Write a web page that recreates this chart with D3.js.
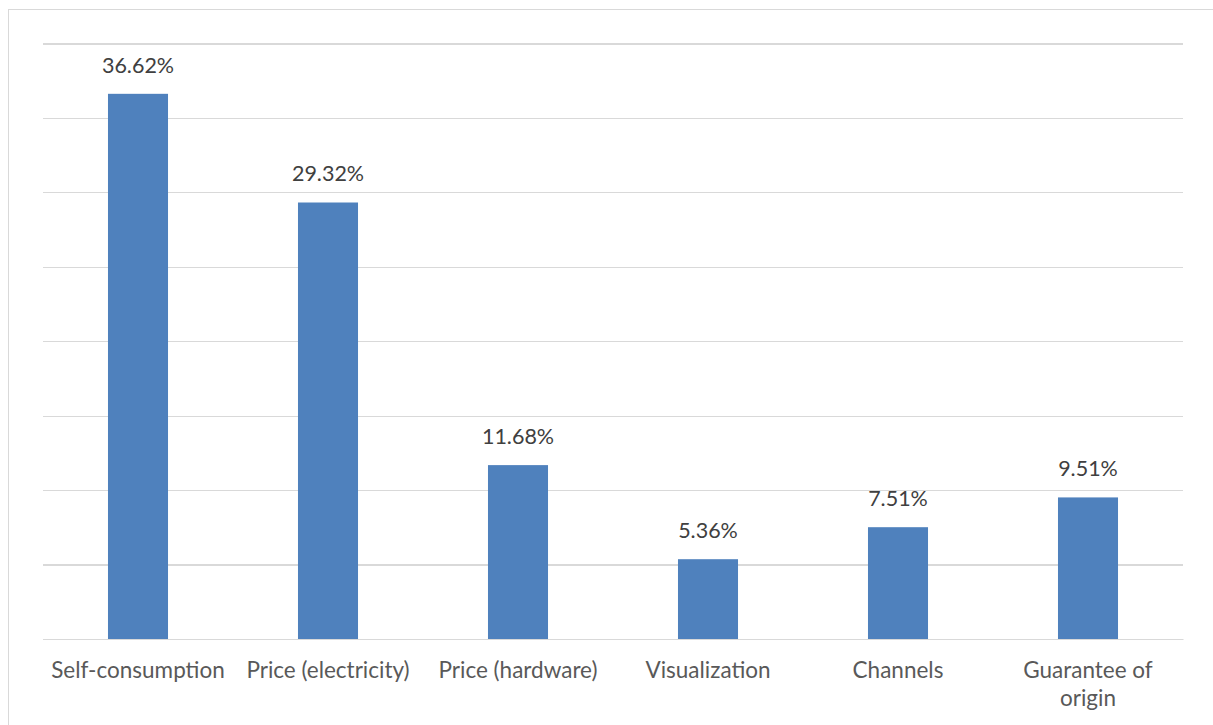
<!DOCTYPE html>
<html><head><meta charset="utf-8">
<script src="https://cdn.jsdelivr.net/npm/d3@7"></script>
<style>body{margin:0;background:#fff;}svg{display:block;}</style>
</head><body>
<svg id="chart" width="1213" height="725"></svg>
<script>
const categories = ["Self-consumption","Price (electricity)","Price (hardware)","Visualization","Channels","Guarantee of origin"];
const values = [36.62, 29.32, 11.68, 5.36, 7.51, 9.51];
const yTicks = [0,5,10,15,20,25,30,35,40];

const svg = d3.select("#chart");
const W = 1213, H = 725;
const m = {left:43, right:30, top:43.5, bottom:86};
const font = "Lato, 'Open Sans', sans-serif";

// outer border (clipped by window on right/bottom)
svg.append("rect").attr("x",8.5).attr("y",9.5).attr("width",1300).attr("height",800)
  .attr("fill","#fff").attr("stroke","#d9d9d9").attr("stroke-width",1);

const x = d3.scaleBand().domain(categories).range([m.left, W-m.right]).paddingInner(0.684).paddingOuter(0.342);
const y = d3.scaleLinear().domain([0,40]).range([639, m.top]);

// gridlines
const yAxis = d3.axisLeft(y).tickValues(yTicks).tickSize(-(W-m.right-m.left)).tickFormat("");
const gy = svg.append("g").attr("transform",`translate(${m.left},0)`).call(yAxis);
gy.select(".domain").remove();
gy.selectAll(".tick line").attr("stroke","#d9d9d9").attr("stroke-width",1.2).attr("shape-rendering","crispEdges");

// bars
svg.append("g").selectAll("rect").data(values).join("rect")
  .attr("x",(d,i)=>x(categories[i]))
  .attr("y",d=>y(d))
  .attr("width",x.bandwidth())
  .attr("height",d=>y(0)-y(d))
  .attr("fill","#4f81bd");

// data labels
svg.append("g").selectAll("text").data(values).join("text")
  .attr("x",(d,i)=>x(categories[i])+x.bandwidth()/2)
  .attr("y",d=>y(d)-21)
  .attr("text-anchor","middle")
  .attr("font-family",font).attr("font-size",21.5).attr("fill","#404040")
  .text(d=>d.toFixed(2)+"%");

// x axis
const xAxis = d3.axisBottom(x).tickSize(0).tickPadding(0);
const gx = svg.append("g").attr("transform",`translate(0,${y(0)})`).call(xAxis);
gx.select(".domain").attr("stroke","#d9d9d9").attr("stroke-width",1.2);
gx.selectAll(".tick text").attr("font-family",font).attr("font-size",22.5).attr("fill","#595959")
  .attr("dy",null).attr("y",39)
  .each(function(d){
    const t = d3.select(this);
    const words = d.split(" ");
    const maxW = x.step()-10;
    t.text(null);
    let line = [], lineNo = 0;
    let tspan = t.append("tspan").attr("x",0).attr("y",39);
    for (const w of words) {
      line.push(w);
      tspan.text(line.join(" "));
      if (tspan.node().getComputedTextLength() > maxW && line.length>1) {
        line.pop(); tspan.text(line.join(" "));
        line=[w]; lineNo++;
        tspan = t.append("tspan").attr("x",0).attr("y",39+lineNo*28).text(w);
      }
    }
  });
</script>
</body></html>
